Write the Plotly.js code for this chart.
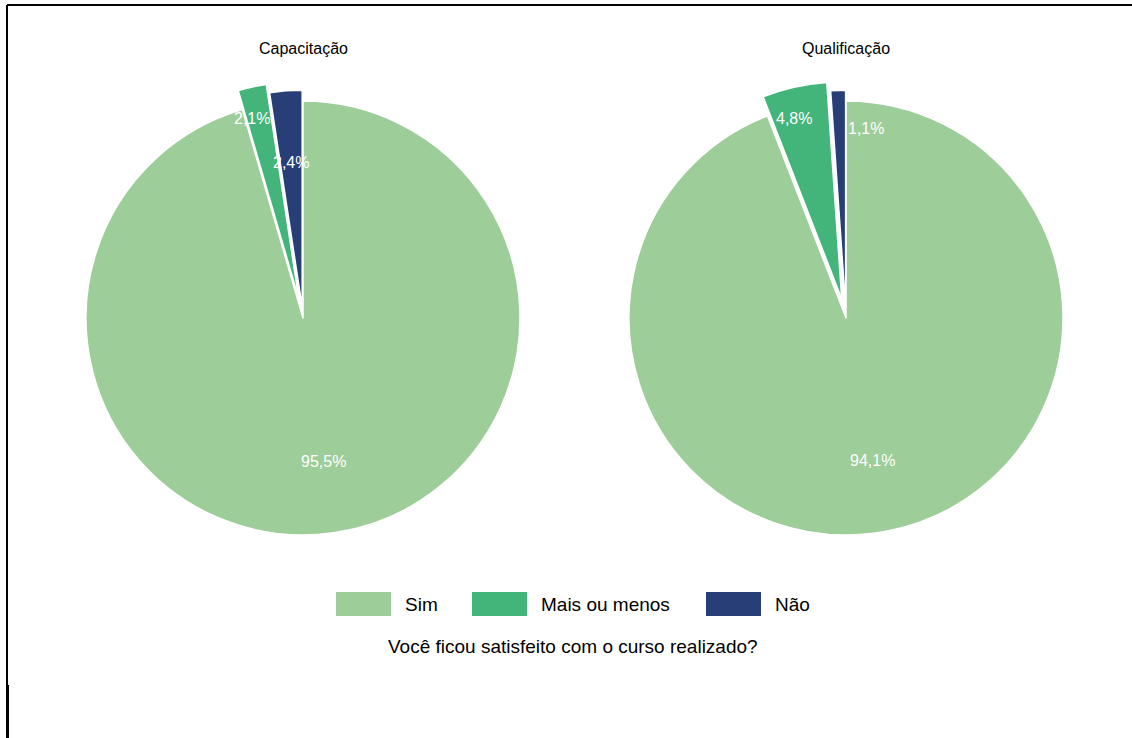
<!DOCTYPE html>
<html>
<head>
<meta charset="utf-8">
<script src="https://cdn.plot.ly/plotly-3.0.1.min.js"></script>
<style>
html,body{margin:0;padding:0;background:#fff;}
#chart{width:1132px;height:738px;}
</style>
</head>
<body>
<div id="chart"></div>
<script>
const categories = ['Sim', 'Mais ou menos', 'Não'];
const groups = ['Capacitação', 'Qualificação'];
const capacitacao = [95.5, 2.1, 2.4];
const qualificacao = [94.1, 4.8, 1.1];
const sliceColors = ['#9dcd98', '#43b47a', '#273f76'];
const legendTitle = 'Você ficou satisfeito com o curso realizado?';

const W = 1132, H = 738;
const FONT = '"Liberation Sans", Arial, sans-serif';
const fmt = v => v.toFixed(1).replace('.', ',') + '%';

function px2x(px) { return px / W; }
function py2y(py) { return 1 - py / H; }

const pull = [0, 0.09, 0.05];
const R = 217;
const half = R * (1 + Math.max(...pull));
const centers = [[303, 318], [846, 318]];
const seriesList = [capacitacao, qualificacao];
// label placement (fraction of radius, angular nudge in degrees) per pie
const labelRadius = [[0.67, 0.86, 0.67], [0.67, 0.86, 0.83]];
const labelNudge = [[0, -2, 0], [0, -2, 8]];

const traces = seriesList.map((vals, i) => {
  const [cx, cy] = centers[i];
  return {
    type: 'pie',
    values: vals,
    labels: categories,
    textinfo: 'none',
    sort: false,
    direction: 'clockwise',
    rotation: 0,
    pull: pull,
    marker: {colors: sliceColors, line: {color: '#ffffff', width: 1.5}},
    showlegend: false,
    hoverinfo: 'label+percent',
    domain: {
      x: [px2x(cx - half), px2x(cx + half)],
      y: [py2y(cy + half), py2y(cy - half)]
    }
  };
});

const annotations = groups.map((g, i) => ({
  text: g, x: px2x(centers[i][0]), y: py2y(49), xref: 'paper', yref: 'paper',
  xanchor: 'center', yanchor: 'middle', showarrow: false,
  font: {size: 16, color: '#000', family: FONT}
}));

// slice labels, placed from the data (cumulative share -> angle)
seriesList.forEach((vals, i) => {
  const [cx, cy] = centers[i];
  const total = vals.reduce((a, b) => a + b, 0);
  let cum = 0;
  vals.forEach((v, k) => {
    const mid = (cum + v / 2) / total;
    cum += v;
    const th = (mid * 360 + labelNudge[i][k]) * Math.PI / 180;
    const rr = R * (labelRadius[i][k] + pull[k]);
    annotations.push({
      text: fmt(v),
      x: px2x(cx + rr * Math.sin(th)), y: py2y(cy - rr * Math.cos(th)),
      xref: 'paper', yref: 'paper', xanchor: 'center', yanchor: 'middle',
      showarrow: false, font: {size: 16, color: '#ffffff', family: FONT}
    });
  });
});

const shapes = [];
const legBoxX = [336, 472, 706];
categories.forEach((c, i) => {
  shapes.push({
    type: 'rect', xref: 'paper', yref: 'paper',
    x0: px2x(legBoxX[i]), x1: px2x(legBoxX[i] + 55),
    y0: py2y(616), y1: py2y(592),
    fillcolor: sliceColors[i], line: {width: 0}
  });
  annotations.push({
    text: c, x: px2x(legBoxX[i] + 67), y: py2y(604), xref: 'paper', yref: 'paper',
    xanchor: 'left', yanchor: 'middle', showarrow: false,
    font: {size: 19, color: '#000', family: FONT}
  });
});
annotations.push({
  text: legendTitle, x: px2x(573), y: py2y(646), xref: 'paper', yref: 'paper',
  xanchor: 'center', yanchor: 'middle', showarrow: false,
  font: {size: 19, color: '#000', family: FONT}
});

// frame lines
shapes.push({type: 'line', xref: 'paper', yref: 'paper', x0: px2x(7), x1: 1.01, y0: py2y(5), y1: py2y(5), line: {color: '#000', width: 2}});
shapes.push({type: 'line', xref: 'paper', yref: 'paper', x0: px2x(7), x1: px2x(7), y0: py2y(5), y1: py2y(685), line: {color: '#000', width: 2}});
shapes.push({type: 'line', xref: 'paper', yref: 'paper', x0: px2x(7.5), x1: px2x(7.5), y0: py2y(685), y1: -0.01, line: {color: '#000', width: 3}});

const layout = {
  width: W, height: H,
  margin: {l: 0, r: 0, t: 0, b: 0},
  paper_bgcolor: '#fff',
  plot_bgcolor: '#fff',
  showlegend: false,
  font: {family: FONT},
  annotations: annotations,
  shapes: shapes
};

Plotly.newPlot('chart', traces, layout, {displayModeBar: false, staticPlot: true});
</script>
</body>
</html>
